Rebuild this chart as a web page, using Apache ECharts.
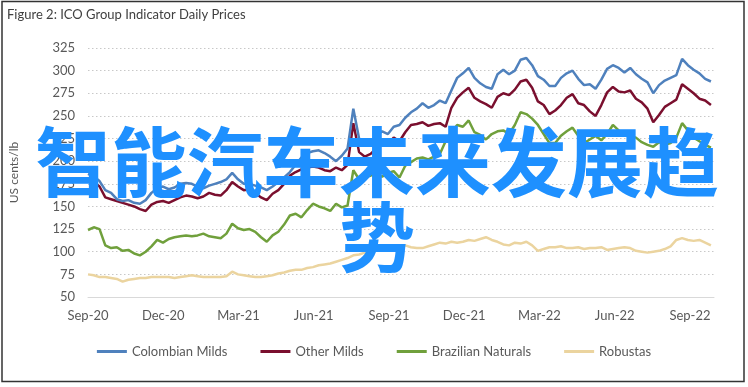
<!DOCTYPE html>
<html>
<head>
<meta charset="utf-8">
<style>
  html, body { margin: 0; padding: 0; background: #ffffff; }
  #chart { width: 748px; height: 387px; }
</style>
<script src="https://cdn.jsdelivr.net/npm/echarts@6/dist/echarts.min.js"></script>
</head>
<body>
<div id="chart"></div>
<script>
// Weekly samples starting 2020-09-01
const startDate = '2020-09-01';
const xTickLabels = ['Sep-20','Dec-20','Mar-21','Jun-21','Sep-21','Dec-21','Mar-22','Jun-22','Sep-22'];
const seriesNames = ['Colombian Milds','Other Milds','Brazilian Naturals','Robustas'];

const colombianMilds = [
  186,183,178,168,165,158,156,157,154,153,
  157,165,170,172,169,171,175,176,175,172,
  170,173,175,177,180,187,180,175,175,173,
  171,168,172,177,182,188,196,204,209,211,
  212,209,205,200,206,214,258,225,220,222,
  228,233,230,238,240,248,254,258,264,259,
  262,267,264,278,292,297,303,292,286,282,
  280,296,301,296,300,312,314,306,294,290,
  283,283,292,297,300,291,284,285,280,290,
  302,306,303,298,303,296,291,287,275,284,
  289,292,295,313,306,301,297,291,288
];
const otherMilds = [
  178,177,172,160,158,156,154,152,150,147,
  145,152,155,156,154,157,160,162,161,159,
  161,165,163,162,168,177,172,168,169,165,
  160,157,164,168,175,184,188,191,193,194,
  193,190,189,193,190,196,242,210,205,208,
  214,220,218,226,222,232,240,241,243,239,
  241,242,238,259,270,276,281,270,266,263,
  259,271,275,273,279,288,290,281,266,262,
  252,256,262,270,274,264,262,255,250,262,
  276,282,277,276,278,269,265,258,243,251,
  260,264,268,285,280,275,269,267,262
];
const brazilianNaturals = [
  124,127,125,107,104,105,101,102,98,96,
  100,106,113,110,114,116,117,118,117,118,
  120,117,116,115,120,131,126,124,125,122,
  116,111,118,122,130,140,142,138,146,153,
  150,148,145,153,149,151,190,180,183,184,
  186,183,187,189,182,195,199,203,204,202,
  205,208,222,232,240,238,245,232,229,224,
  230,233,234,230,240,254,252,247,240,230,
  220,220,228,233,237,228,220,224,228,223,
  230,240,234,229,228,226,221,218,216,221,
  218,220,226,242,234,226,222,218,215
];
const robustas = [
  75,74,72,72,71,70,67,69,70,71,
  71,72,72,72,72,71,72,73,74,73,
  72,72,72,72,73,78,75,74,73,72,
  72,73,74,76,77,79,80,80,82,83,
  85,86,87,89,91,93,96,97,99,100,
  102,103,103,104,105,107,105,104,104,106,
  108,110,109,111,110,111,113,112,114,116,
  113,111,108,107,110,109,111,107,101,103,
  105,105,106,104,104,105,103,104,104,105,
  102,103,104,105,104,101,100,99,100,101,
  103,106,113,115,113,112,113,110,107
];

// x position of each weekly sample expressed in months since startDate
const daysPerMonth = 30.4375;
function toPairs(values) {
  return values.map((v, i) => [i * 7 / daysPerMonth, v]);
}

const colors = ['#4F81BD', '#7A0F2E', '#70A03C', '#EBD49F'];
const allValues = [colombianMilds, otherMilds, brazilianNaturals, robustas];
const fontFam = 'Lato, "Open Sans", sans-serif';

const chart = echarts.init(document.getElementById('chart'), null, { renderer: 'canvas' });
chart.setOption({
  animation: false,
  backgroundColor: '#ffffff',
  title: {
    text: 'Figure 2: ICO Group Indicator Daily Prices',
    left: 7, top: 8, padding: 0,
    textStyle: { fontFamily: fontFam, fontSize: 13, fontWeight: 'normal', color: '#404040' }
  },
  legend: {
    data: seriesNames,
    left: 'center', top: 340,
    icon: 'rect', itemWidth: 30, itemHeight: 3, itemGap: 33,
    textStyle: { fontFamily: fontFam, fontSize: 13, color: '#595959' }
  },
  grid: { left: 85, right: 34, top: 48, bottom: 90, containLabel: false },
  xAxis: {
    type: 'value', min: 0, max: 24.96, interval: 3,
    axisLine: { show: true, lineStyle: { color: '#D9D9D9', width: 1 } },
    axisTick: { show: false },
    splitLine: { show: false },
    axisLabel: {
      showMaxLabel: false,
      margin: 12,
      fontFamily: fontFam, fontSize: 13, color: '#595959',
      formatter: function (v) {
        const k = Math.round(v / 3);
        return Math.abs(v - k * 3) < 1e-6 && xTickLabels[k] ? xTickLabels[k] : '';
      }
    }
  },
  yAxis: {
    type: 'value', min: 50, max: 325, interval: 25,
    name: 'US cents/lb', nameLocation: 'middle', nameRotate: 90, nameGap: 68,
    nameTextStyle: { fontFamily: fontFam, fontSize: 12, color: '#595959' },
    axisLine: { show: false }, axisTick: { show: false },
    axisLabel: { margin: 13, fontFamily: fontFam, fontSize: 13, color: '#595959' },
    splitLine: { show: true, lineStyle: { color: '#C8C8C8', width: 1, type: [1.5, 2.5] } }
  },
  series: seriesNames.map((name, i) => ({
    name: name,
    type: 'line',
    data: toPairs(allValues[i]),
    showSymbol: false, symbol: 'none',
    lineStyle: { color: colors[i], width: 2.5 },
    itemStyle: { color: colors[i] },
    z: 4 - i
  })),
  graphic: [
    {
      type: 'rect', z: 100, silent: true,
      shape: { x: 2, y: 1.5, width: 742, height: 380 },
      style: { fill: 'none', stroke: '#333333', lineWidth: 1.5 }
    },
    {
      type: 'text', z: 200, silent: true,
      style: {
        text: '智能汽车未来发展趋\n势',
        x: 377, y: 200,
        textAlign: 'center', textVerticalAlign: 'middle',
        fill: '#1E90FF',
        fontFamily: '"Noto Sans CJK SC"', fontWeight: 'bold', fontSize: 76,
        lineHeight: 75
      }
    }
  ]
});
</script>
</body>
</html>
